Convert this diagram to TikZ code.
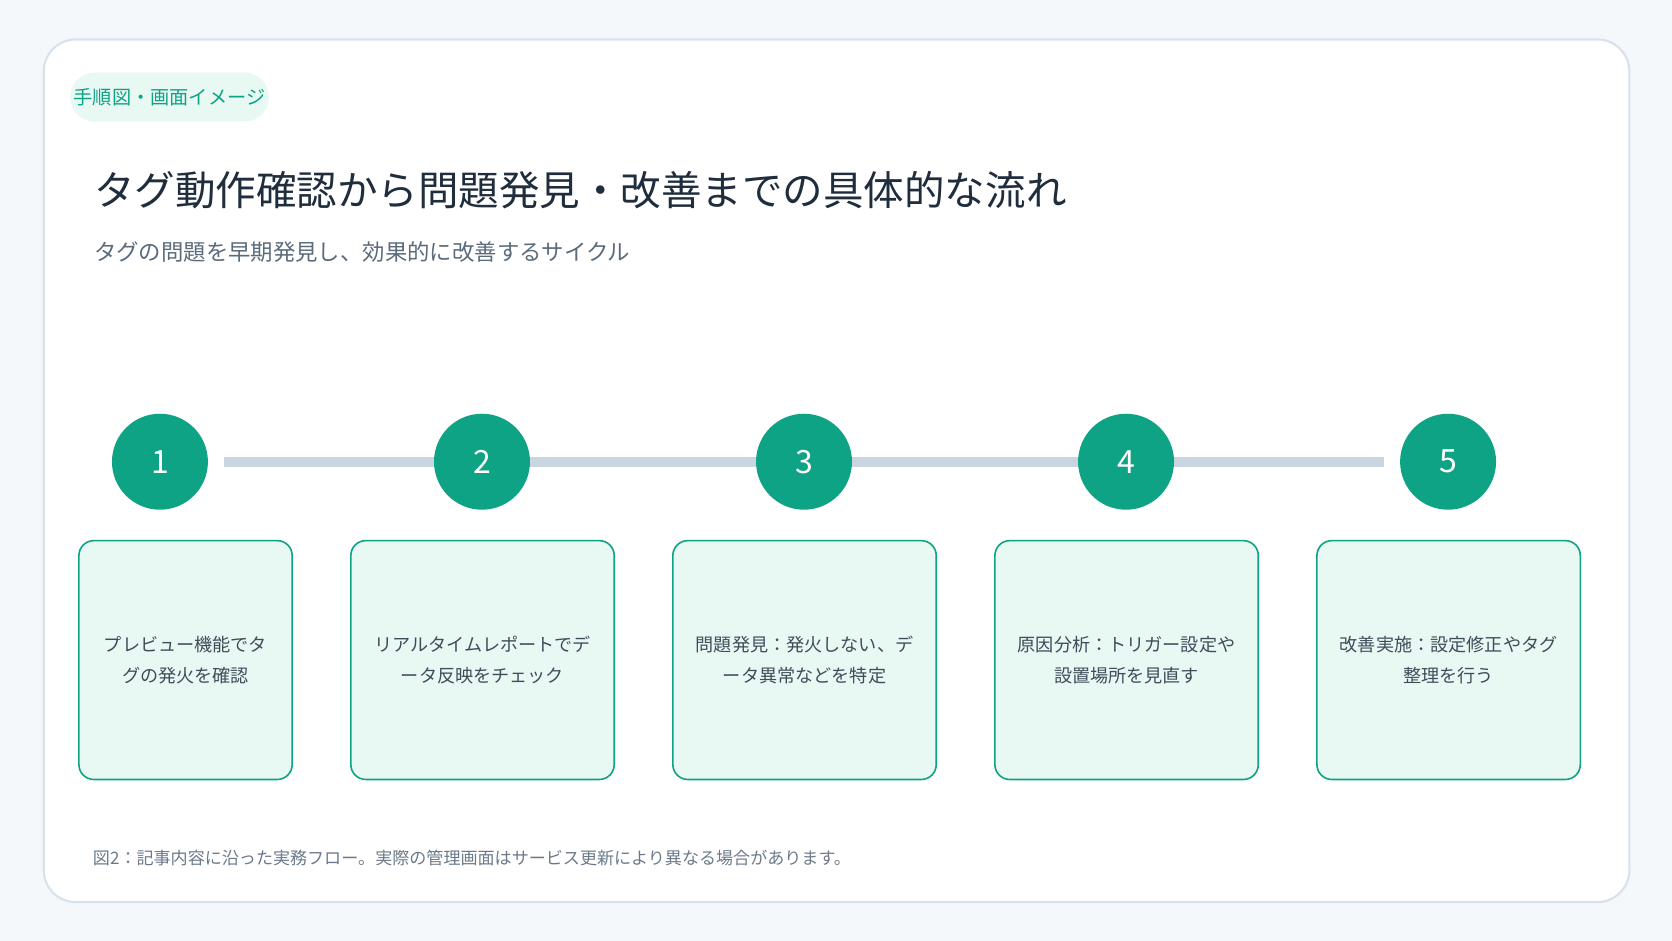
\documentclass[tikz,border=0pt]{standalone}
\usepackage{fontspec}
\setmainfont{Noto Sans CJK JP}
\definecolor{teal1}{HTML}{0EA385}
\definecolor{boxfill}{HTML}{E8F8F3}
\definecolor{pg}{HTML}{F5F8FB}
\definecolor{cardline}{HTML}{D9E2EC}
\definecolor{track}{HTML}{C9D6E2}
\definecolor{titlec}{HTML}{1F2D3D}
\definecolor{subc}{HTML}{5B6B7B}
\definecolor{capc}{HTML}{6B7A8A}
\begin{document}
\begin{tikzpicture}[x=1pt,y=-1pt,
  stepc/.style={circle,fill=teal1,minimum size=90pt,inner sep=0pt,text=white,font=\fontsize{30}{30}\selectfont},
  box/.style={draw=teal1,line width=1.5pt,fill=boxfill,rounded corners=14pt,align=center,inner sep=0pt,
    font=\fontsize{17}{29}\selectfont,text=titlec!85}]
\useasboundingbox (0,0) rectangle (1568,882);
\fill[pg] (0,0) rectangle (1568,882);
\draw[cardline,line width=2pt,fill=white,rounded corners=30pt] (41,37) rectangle (1528,846);
\node[fill=boxfill,rounded corners=23pt,minimum width=182pt,minimum height=46pt,text=teal1,font=\fontsize{18}{18}\selectfont] (tag) at (159,91) {手順図・画面イメージ};
\node[anchor=west,text=titlec,font=\fontsize{38}{38}\selectfont,inner sep=0pt] (title) at (88,178) {タグ動作確認から問題発見・改善までの具体的な流れ};
\node[anchor=west,text=subc,font=\fontsize{21}{21}\selectfont,inner sep=0pt] (sub) at (88,236) {タグの問題を早期発見し、効果的に改善するサイクル};
\coordinate (l0) at (210,433); \coordinate (l1) at (1298,433);
\draw[track,line width=9pt] (l0) -- (l1);
\foreach \i/\x in {1/150,2/452,3/754,4/1056,5/1358}{\node[stepc] (c\i) at (\x,433) {\i};}
\node[box,minimum width=200pt,minimum height=224pt] (b1) at (174,619) {プレビュー機能でタ\\グの発火を確認};
\node[box,minimum width=247pt,minimum height=224pt] (b2) at (452.5,619) {リアルタイムレポートでデ\\ータ反映をチェック};
\node[box,minimum width=247pt,minimum height=224pt] (b3) at (754.5,619) {問題発見：発火しない、デ\\ータ異常などを特定};
\node[box,minimum width=247pt,minimum height=224pt] (b4) at (1056.5,619) {原因分析：トリガー設定や\\設置場所を見直す};
\node[box,minimum width=247pt,minimum height=224pt] (b5) at (1358.5,619) {改善実施：設定修正やタグ\\整理を行う};
\node[anchor=west,text=capc,font=\fontsize{16}{16}\selectfont,inner sep=0pt] (cap) at (87,805) {図2：記事内容に沿った実務フロー。実際の管理画面はサービス更新により異なる場合があります。};
\end{tikzpicture}
\end{document}
